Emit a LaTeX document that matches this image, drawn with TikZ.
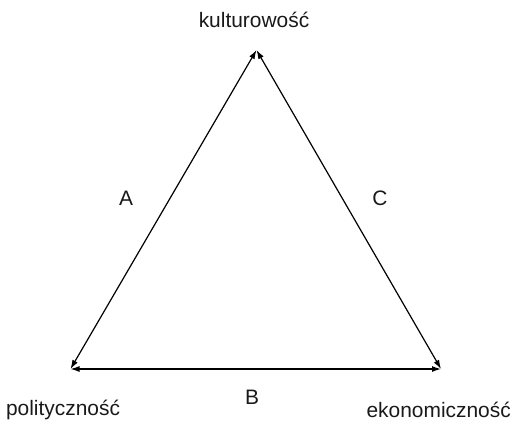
\documentclass[tikz,border=0pt]{standalone}
\usepackage{fontspec}
\setmainfont{Liberation Sans}
\usetikzlibrary{arrows.meta}
\begin{document}
\begin{tikzpicture}[x=1bp,y=1bp,
  lbl/.style={font=\fontsize{21}{24}\selectfont, text=black!90, inner sep=0pt},
  edge/.style={line width=1.2bp, {Latex[length=9bp,width=6bp]}-{Latex[length=9bp,width=6bp]}}]
\useasboundingbox (0,0) rectangle (513,422);
\coordinate (top) at (256.5,372);
\coordinate (bl) at (70.5,53);
\coordinate (br) at (441,53);
\node[lbl] (kul) at (254,402) {kulturowość};
\node[lbl] (pol) at (63,12) {polityczność};
\node[lbl, anchor=east] (eko) at (511,12) {ekonomiczność};
\node[lbl] (A) at (126,224) {A};
\node[lbl] (C) at (380,224) {C};
\node[lbl] (B) at (252,25) {B};
\draw[edge] (bl) -- (top);
\draw[edge] (br) -- (top);
\draw[edge] (bl) -- (br);
\end{tikzpicture}
\end{document}
